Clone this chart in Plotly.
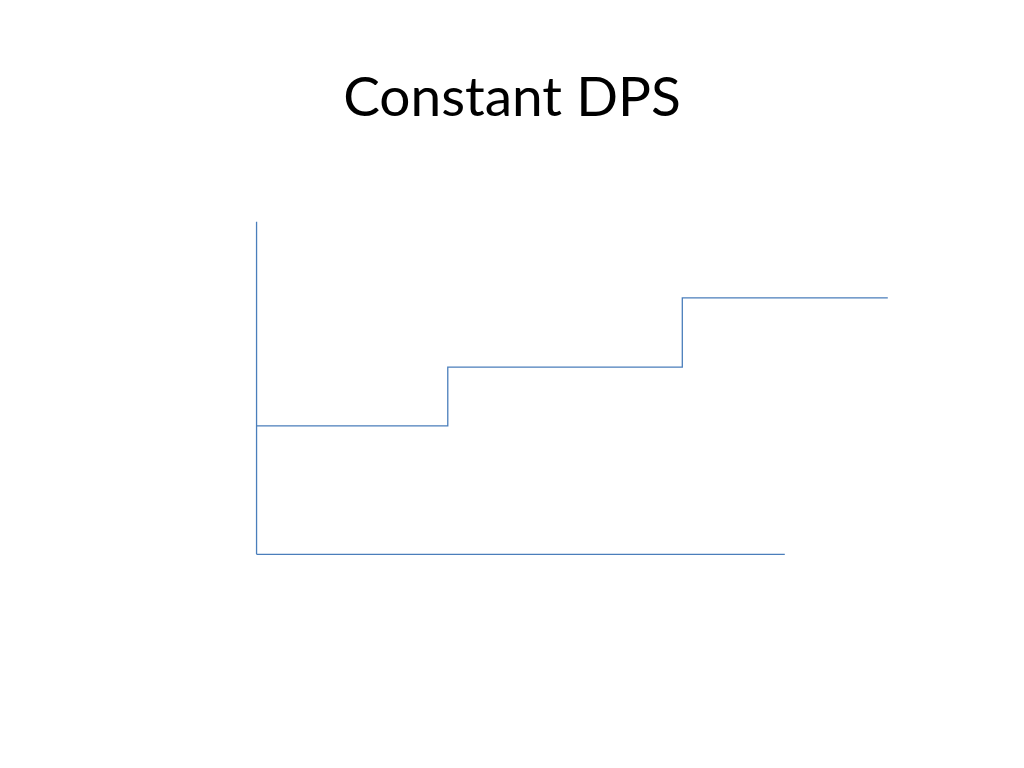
import plotly.graph_objects as go

# step breakpoints (time) and DPS level held from each breakpoint
time_points = [0, 3.62, 8.06, 11.95]
dps_levels = [3.86, 5.63, 7.71, 7.71]

# extent of the drawn axes
x_axis_end = 10
y_axis_end = 10

LINE_COLOR = "#4a7ebb"

fig = go.Figure()

# hand-drawn style axes
fig.add_trace(
    go.Scatter(
        x=[0, x_axis_end],
        y=[0, 0],
        mode="lines",
        line=dict(color=LINE_COLOR, width=1.3),
        hoverinfo="skip",
    )
)
fig.add_trace(
    go.Scatter(
        x=[0, 0],
        y=[0, y_axis_end],
        mode="lines",
        line=dict(color=LINE_COLOR, width=1.3),
        hoverinfo="skip",
    )
)

# the constant-DPS staircase
fig.add_trace(
    go.Scatter(
        x=time_points,
        y=dps_levels,
        mode="lines",
        line=dict(color=LINE_COLOR, width=1.3, shape="hv"),
    )
)

# page body adds an 8px margin, so everything is pulled back by 8px
fig.update_layout(
    width=1024,
    height=768,
    autosize=False,
    showlegend=False,
    paper_bgcolor="white",
    plot_bgcolor="white",
    margin=dict(l=238.4, r=130.9, t=207.3, b=215.4),
    title=dict(
        text="Constant DPS",
        x=504 / 1024,
        xanchor="center",
        y=1 - 89 / 768,
        yanchor="middle",
        font=dict(family="Lato", size=55, color="black"),
    ),
)
fig.update_xaxes(range=[-0.2, 12.2], visible=False)
fig.update_yaxes(range=[-0.2, 10.2], visible=False)

fig.write_html("out.html")
